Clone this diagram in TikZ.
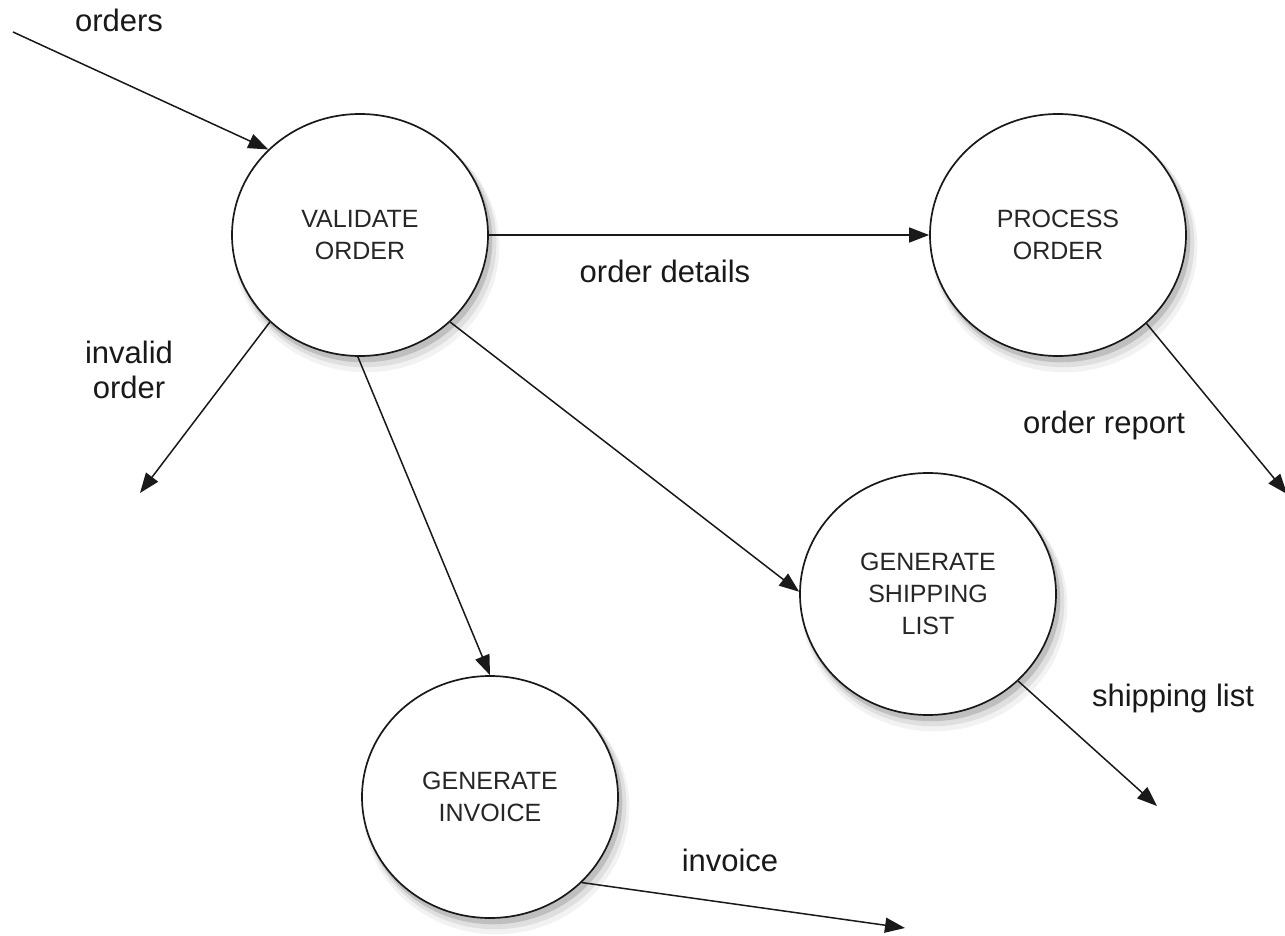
\documentclass[tikz,border=0pt]{standalone}
\usepackage{fontspec}
\setmainfont{Liberation Sans}
\usetikzlibrary{arrows.meta,shapes.geometric,shadows}
\begin{document}
\begin{tikzpicture}[x=1pt,y=-1pt,
  proc/.style={ellipse, draw=black!90, line width=1.7pt, fill=white,
    minimum width=256pt, minimum height=242pt, inner sep=0pt, align=center,
    font=\fontsize{25}{32}\selectfont, text=black!85,
    general shadow={shadow xshift=6pt,shadow yshift=-11pt,shadow scale=1.04,fill=black,opacity=0.05},
    general shadow={shadow xshift=5pt,shadow yshift=-8pt,shadow scale=1.025,fill=black,opacity=0.08},
    general shadow={shadow xshift=3pt,shadow yshift=-5pt,shadow scale=1.01,fill=black,opacity=0.14}},
  flow/.style={draw=black!90, line width=1.5pt, -{Triangle[length=20pt,width=15pt]}},
  lbl/.style={font=\fontsize{31}{34}\selectfont, text=black!90, inner sep=0pt, anchor=base}]
\useasboundingbox (0,0) rectangle (1285,936);
\fill[white] (0,0) rectangle (1285,936);

\node[proc] (val)  at (360,235) {VALIDATE\\ORDER};
\node[proc] (proc) at (1058,235) {PROCESS\\ORDER};
\node[proc] (ship) at (928,594) {GENERATE\\SHIPPING\\LIST};
\node[proc] (inv)  at (490,797) {GENERATE\\INVOICE};

\coordinate (src)     at (13,32);
\coordinate (invalid) at (140,493);
\coordinate (report)  at (1287,494);
\coordinate (shipout) at (1157,806);
\coordinate (invout)  at (905,928);

\draw[flow] (src) -- (val.137);
\draw[flow] (val) -- (proc);
\draw[flow] (val.224) -- (invalid);
\draw[flow] (val.269) -- (inv.north);
\draw[flow] (val.316) -- (ship.179);
\draw[flow] (proc.315) -- (report);
\draw[flow] (ship.316) -- (shipout);
\draw[flow] (inv.317) -- (invout);

\node[lbl] (lorders)  at (119,32)  {orders};
\node[lbl] (ldetails) at (665,282) {order details};
\node[lbl] (linv1)    at (129,363) {invalid};
\node[lbl] (linv2)    at (129,398) {order};
\node[lbl] (lreport)  at (1104,433) {order report};
\node[lbl] (lship)    at (1173,706) {shipping list};
\node[lbl] (linvoice) at (730,871) {invoice};
\end{tikzpicture}
\end{document}
